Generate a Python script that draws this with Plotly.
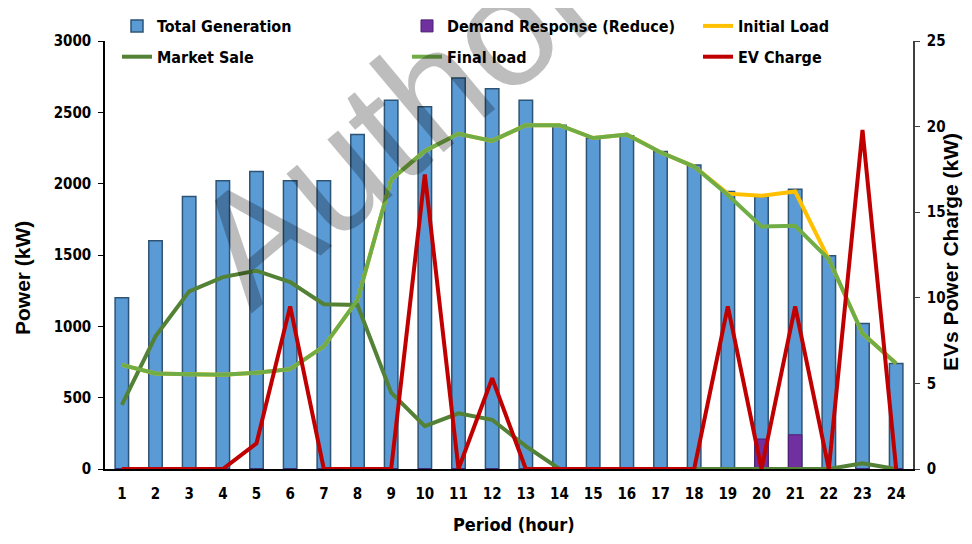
import plotly.graph_objects as go

periods = [str(i) for i in range(1, 25)]
total_generation = [1200, 1600, 1910, 2020, 2085, 2020, 2020, 2345, 2585, 2540, 2740, 2665,
                    2585, 2410, 2320, 2335, 2225, 2130, 1945, 1910, 1960, 1495, 1020, 740]
demand_response = [0, 0, 0, 0, 0, 0, 0, 0, 0, 0, 0, 0,
                   0, 0, 0, 0, 0, 0, 0, 210, 240, 0, 0, 0]
initial_load = [730, 670, 665, 660, 675, 700, 860, 1185, 2030, 2230, 2350, 2300,
                2410, 2410, 2320, 2345, 2220, 2120, 1930, 1915, 1945, 1470, 950, 740]
final_load = [730, 670, 665, 660, 675, 700, 860, 1185, 2030, 2230, 2350, 2300,
              2410, 2410, 2320, 2345, 2220, 2120, 1920, 1700, 1705, 1470, 950, 740]
market_sale = [450, 930, 1245, 1345, 1390, 1310, 1155, 1150, 535, 300, 390, 345,
               160, 0, 0, 0, 0, 0, 0, 0, 0, 0, 40, 0]
ev_charge = [0, 0, 0, 0, 1.5, 9.5, 0, 0, 0, 17.2, 0, 5.3,
             0, 0, 0, 0, 0, 0, 9.5, 0, 9.5, 0, 19.8, 0]

NARROW = "DejaVu Sans Condensed, Liberation Sans, Arial, sans-serif"
WIDE = "Liberation Sans, Arial, sans-serif"

fig = go.Figure()

fig.add_trace(go.Bar(x=periods, y=total_generation, name="Total Generation", width=0.4,
                     marker=dict(color="#5B9BD5", line=dict(color="#2E5475", width=1.5)),
                     legend="legend", legendgroup="a"))
fig.add_trace(go.Bar(x=periods, y=demand_response, name="Demand Response (Reduce)", width=0.4,
                     marker=dict(color="#7030A0", line=dict(color="#4B1E6E", width=1)),
                     legend="legend2", legendgroup="b"))
fig.add_trace(go.Scatter(x=periods, y=initial_load, name="Initial Load", mode="lines",
                         line=dict(color="#FFC000", width=4), legend="legend3", legendgroup="c"))
fig.add_trace(go.Scatter(x=periods, y=market_sale, name="Market Sale", mode="lines",
                         line=dict(color="#538135", width=4), legend="legend", legendgroup="d"))
fig.add_trace(go.Scatter(x=periods, y=final_load, name="Final load", mode="lines",
                         line=dict(color="#70AD47", width=4), legend="legend2", legendgroup="e"))
fig.add_trace(go.Scatter(x=periods, y=ev_charge, name="EV Charge", mode="lines", yaxis="y2",
                         line=dict(color="#C00000", width=4), legend="legend3", legendgroup="f"))

# the page body adds an 8px offset, so the figure is drawn 8px smaller
OFF = 8
W, H = 972 - OFF, 544 - OFF
L, R, T, B = 105 - OFF, 59, 41 - OFF, 75
PW, PH = W - L - R, H - T - B


def px_x(px):
    return (px - OFF - L) / PW


def px_y(py):
    return (H - B - (py - OFF)) / PH


legend_common = dict(orientation="v", yanchor="top", xanchor="left", bgcolor="rgba(0,0,0,0)",
                     font=dict(family=NARROW, size=16, color="#000000", weight="bold"),
                     tracegroupgap=7, traceorder="grouped")

tickfont = dict(family=NARROW, size=15, color="#000000", weight="bold")

fig.update_layout(
    width=W, height=H,
    margin=dict(l=L, r=R, t=T, b=B, autoexpand=False),
    paper_bgcolor="white", plot_bgcolor="white",
    barmode="overlay",
    showlegend=True,
    legend=dict(x=px_x(117), y=px_y(9), **legend_common),
    legend2=dict(x=px_x(407), y=px_y(9), **legend_common),
    legend3=dict(x=px_x(698), y=px_y(9), **legend_common),
    xaxis=dict(type="category", range=[-0.5, 23.5], showgrid=False, showline=True,
               linecolor="#000000", linewidth=1.5, ticks="", zeroline=False,
               tickfont=tickfont, ticklabelstandoff=10),
    yaxis=dict(range=[0, 3000], dtick=500, showgrid=False, showline=True, linecolor="#000000",
               linewidth=1.5, ticks="outside", ticklen=5, tickcolor="#000000", zeroline=False,
               tickfont=tickfont, ticklabelstandoff=4),
    yaxis2=dict(range=[0, 25], dtick=5, overlaying="y", side="right", showgrid=False,
                showline=True, linecolor="#404040", linewidth=1.5, ticks="outside", ticklen=5,
                tickcolor="#404040", zeroline=False, tickfont=tickfont, ticklabelstandoff=4),
)

fig.add_annotation(text="Power (kW)", x=px_x(22), y=px_y(278), xref="paper", yref="paper",
                   xanchor="center", yanchor="middle", textangle=-90, showarrow=False,
                   font=dict(family=WIDE, size=21, color="#000000", weight="bold"))
fig.add_annotation(text="EVs Power Charge (kW)", x=px_x(950), y=px_y(252), xref="paper",
                   yref="paper", xanchor="center", yanchor="middle", textangle=-90,
                   showarrow=False, font=dict(family=WIDE, size=21, color="#000000", weight="bold"))
fig.add_annotation(text="Period (hour)", x=px_x(514), y=px_y(524), xref="paper", yref="paper",
                   xanchor="center", yanchor="middle", showarrow=False,
                   font=dict(family=NARROW, size=18, color="#000000", weight="bold"))
fig.add_annotation(text="Author", x=px_x(395), y=px_y(120), xref="paper", yref="paper",
                   xanchor="center", yanchor="middle", textangle=-40, showarrow=False,
                   font=dict(family=WIDE, size=160, color="rgba(0,0,0,0.26)"))

fig.write_html("out.html")
